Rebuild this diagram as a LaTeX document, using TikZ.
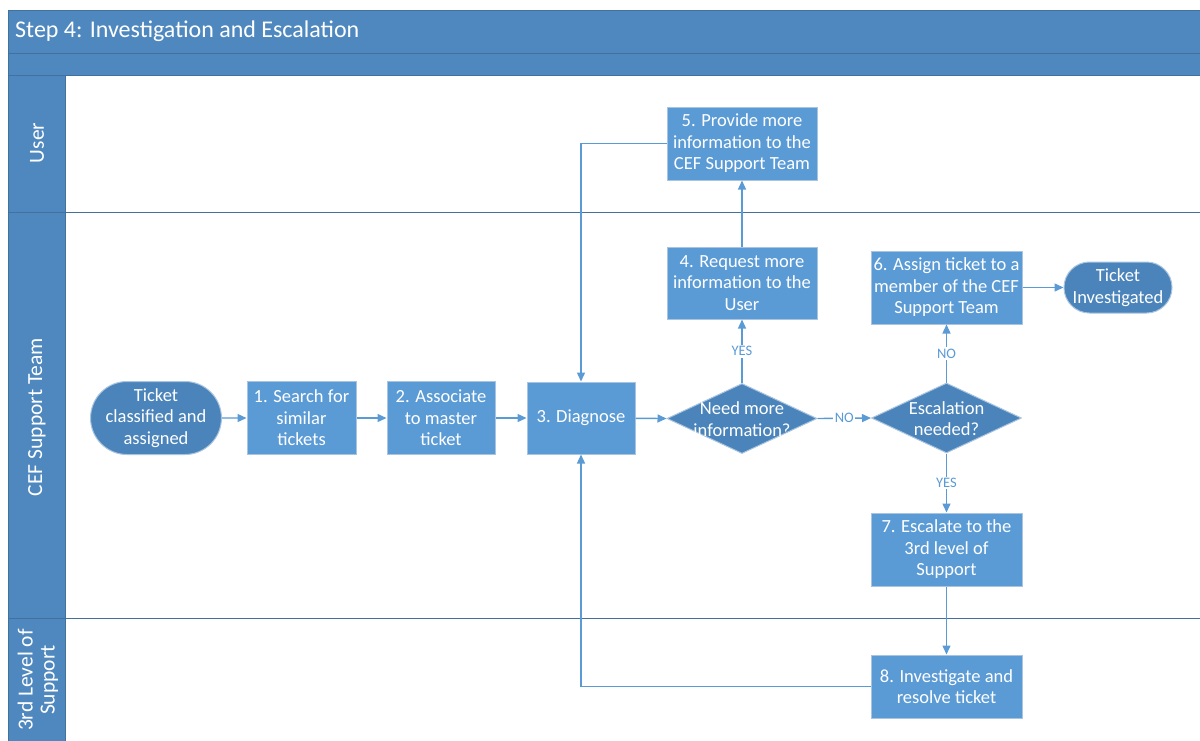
\documentclass[tikz,border=0pt]{standalone}
\usepackage{fontspec}
\setmainfont{Carlito}
\usetikzlibrary{shapes.geometric,shapes.misc,arrows.meta}
\definecolor{hdr}{HTML}{4F88BE}
\definecolor{hdrline}{HTML}{41719C}
\definecolor{boxc}{HTML}{5B9BD5}
\definecolor{darkc}{HTML}{4A84BA}
\definecolor{edgec}{HTML}{A9C4E0}
\begin{document}
\begin{tikzpicture}[x=1pt,y=-1pt,
  proc/.style={rectangle, draw=edgec, line width=1pt, fill=boxc, text=white,
    font=\fontsize{18.5}{21.5}\selectfont, align=center, inner sep=0pt,
    minimum width=#1, minimum height=73pt},
  proc/.default=108pt,
  term/.style={rounded rectangle, draw=edgec, line width=1pt, fill=darkc, text=white,
    font=\fontsize{18.5}{21.5}\selectfont, align=center, inner sep=0pt},
  decshape/.style={diamond, draw=edgec, line width=1pt, fill=darkc, inner sep=0pt,
    minimum width=150pt, minimum height=70pt},
  dectext/.style={text=white, font=\fontsize{18.5}{21.5}\selectfont, align=center, inner sep=0pt},
  conn/.style={draw=boxc, line width=1.4pt, -{Triangle[length=9pt,width=8pt]}},
  lbl/.style={fill=white, text=boxc, font=\fontsize{14.5}{16}\selectfont, inner sep=1.5pt},
  lanetext/.style={text=white, font=\fontsize{21.5}{24}\selectfont, align=center, rotate=90}
]
\useasboundingbox (0,0) rectangle (1200,740);
\fill[white] (0,0) rectangle (1200,740);
% frame and headers
\draw[hdrline, line width=1pt, fill=hdr] (8,10) rectangle (1215,53);
\draw[hdrline, line width=1pt, fill=hdr] (8,53) rectangle (1215,75);
\draw[hdrline, line width=1pt, fill=hdr] (8,75) rectangle (65,212);
\draw[hdrline, line width=1pt, fill=hdr] (8,212) rectangle (65,618);
\draw[hdrline, line width=1pt, fill=hdr] (8,618) rectangle (65,760);
\draw[hdrline, line width=1pt] (65,212) -- (1215,212);
\draw[hdrline, line width=1pt] (65,618) -- (1215,618);
\node[anchor=west, text=white, font=\fontsize{24}{26}\selectfont, inner sep=0pt] (title) at (15,31) {Step 4: Investigation and Escalation};
\node[lanetext] (laneU) at (37,143) {User};
\node[lanetext] (laneC) at (37,417) {CEF Support Team};
\node[lanetext, font=\fontsize{21.5}{22}\selectfont] (laneS) at (38,680) {3rd Level of\\Support};
% nodes
\node[term, minimum width=119pt, minimum height=73pt] (start) at (156,418) {Ticket\\classified and\\assigned};
\node[proc=109pt] (b1) at (301.5,418) {1. Search for\\similar\\tickets};
\node[proc=108pt] (b2) at (441,418) {2. Associate\\to master\\ticket};
\node[proc=108pt, minimum height=72pt] (b3) at (581,418) {3. Diagnose};
\node[decshape] (d1) at (742,418.5) {};
\node[dectext] (d1t) at (742,419) {Need more\\information?};
\node[proc=150pt, minimum height=72pt] (b4) at (742,283) {4. Request more\\information to the\\User};
\node[proc=150pt] (b5) at (742,143.5) {5. Provide more\\information to the\\CEF Support Team};
\node[decshape] (d2) at (946.5,418) {};
\node[dectext] (d2t) at (946.5,418.5) {Escalation\\needed?};
\node[proc=151pt] (b6) at (946.5,287.5) {6. Assign ticket to a\\member of the CEF\\Support Team};
\node[term, minimum width=108pt, minimum height=51pt] (end) at (1118,287.5) {Ticket\\Investigated};
\node[proc=151pt] (b7) at (946.5,549.5) {7. Escalate to the\\3rd level of\\Support};
\node[proc=151pt, minimum height=63pt] (b8) at (946.5,686.5) {8. Investigate and\\resolve ticket};
% connectors
\draw[conn] (start) -- (b1);
\draw[conn] (b1) -- (b2);
\draw[conn] (b2) -- (b3);
\draw[conn] (b3) -- (d1.west);
\draw[conn] (d1.north) -- node[lbl] {YES} (b4.south);
\draw[conn] (b4.north) -- (b5.south);
\draw[conn] (b5.west) -| (b3.north);
\draw[conn] (d1.east) -- node[lbl] {NO} (d2.west);
\draw[conn] (d2.north) -- node[lbl] {NO} (b6.south);
\draw[conn] (b6.east) -- (end.west);
\draw[conn] (d2.south) -- node[lbl] {YES} (b7.north);
\draw[conn] (b7.south) -- (b8.north);
\draw[conn] (b8.west) -| (b3.south);
\end{tikzpicture}
\end{document}
